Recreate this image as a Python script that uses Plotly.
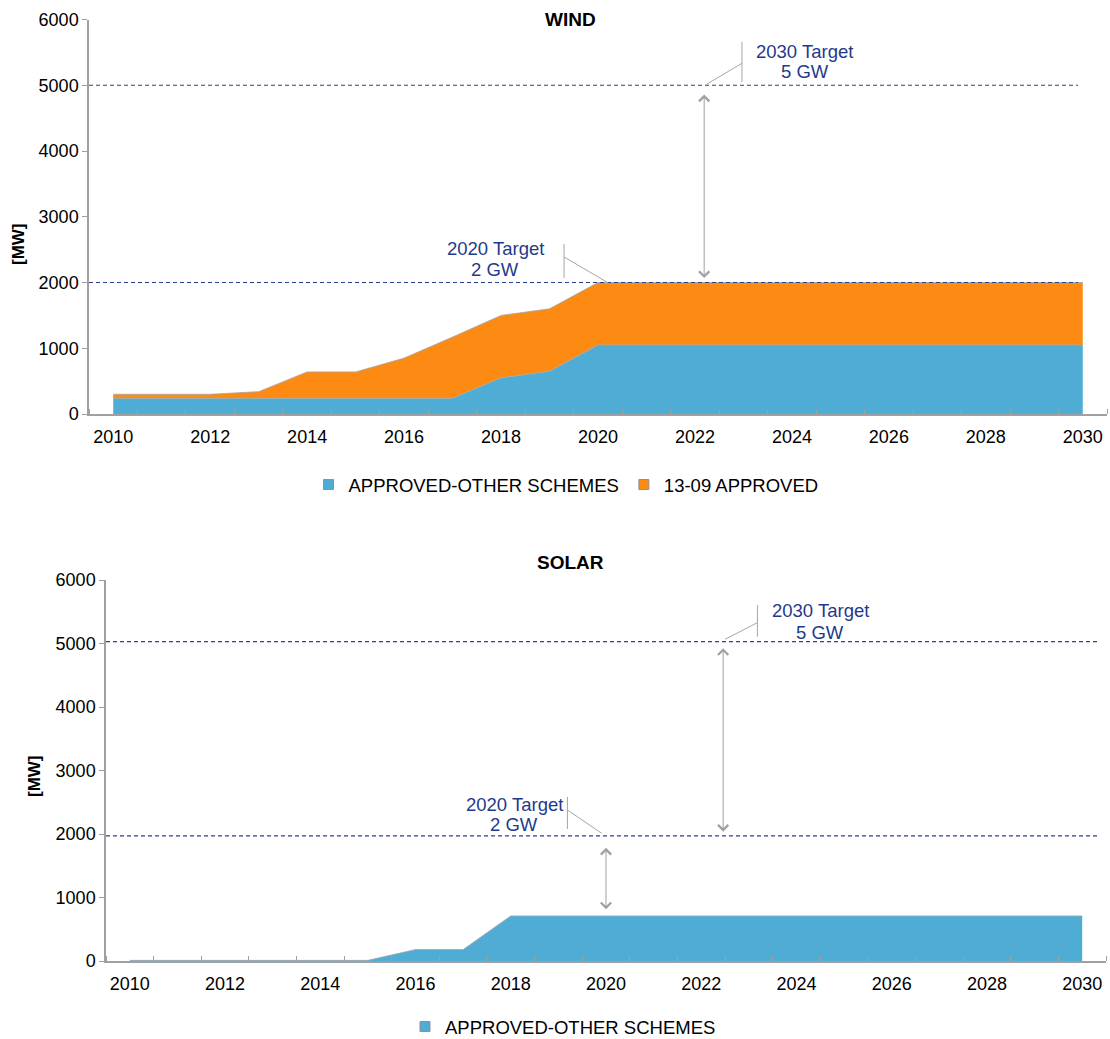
import plotly.graph_objects as go

# ---------------- data ----------------
years = list(range(2010, 2031))
tick_years = list(range(2010, 2031, 2))

wind_other = [240, 240, 240, 240, 240, 240, 240, 240, 550, 650, 1050,
              1050, 1050, 1050, 1050, 1050, 1050, 1050, 1050, 1050, 1050]
wind_1309 = [60, 60, 60, 100, 400, 400, 610, 930, 950, 950, 950,
             950, 950, 950, 950, 950, 950, 950, 950, 950, 950]
solar_other = [10, 10, 10, 10, 10, 10, 180, 180, 710, 710, 710,
               710, 710, 710, 710, 710, 710, 710, 710, 710, 710]

wind_targets = [2000, 5000]
solar_targets = [1970, 5030]

series_names = ["APPROVED-OTHER SCHEMES", "13-09 APPROVED"]
titles = ["WIND", "SOLAR"]
target_2020 = ["2020 Target", "2 GW"]
target_2030 = ["2030 Target", "5 GW"]

# ---------------- styles ----------------
BLUE = "#4FACD5"
ORANGE = "#FD8A13"
NAVY = "#1F3A8C"
DASH = "#27408F"
GRAY = "#A6A6A6"
AXIS = "#A0A0A0"
FONT = "Liberation Sans, Arial, sans-serif"
TXT = 18.5
W, H = 1110, 1039

fig = go.Figure()

# wind stacked areas
fig.add_trace(go.Scatter(x=years, y=wind_other, stackgroup="wind", mode="lines",
                         line=dict(color=GRAY, width=0.8), fillcolor=BLUE,
                         showlegend=False, hoverinfo="skip", xaxis="x", yaxis="y"))
fig.add_trace(go.Scatter(x=years, y=wind_1309, stackgroup="wind", mode="lines",
                         line=dict(color=GRAY, width=0.8), fillcolor=ORANGE,
                         showlegend=False, hoverinfo="skip", xaxis="x", yaxis="y"))
# solar area
fig.add_trace(go.Scatter(x=years, y=solar_other, stackgroup="solar", mode="lines",
                         line=dict(color=GRAY, width=0.8), fillcolor=BLUE,
                         showlegend=False, hoverinfo="skip", xaxis="x2", yaxis="y2"))

# legend entries
def legend_entry(name, color, legend, xa, ya):
    fig.add_trace(go.Scatter(x=[None], y=[None], mode="markers", name=name,
                             marker=dict(symbol="square", size=10, color=color,
                                         line=dict(color="#909090", width=1)),
                             legend=legend, xaxis=xa, yaxis=ya))

legend_entry(series_names[0], BLUE, "legend", "x", "y")
legend_entry(series_names[1], ORANGE, "legend", "x", "y")
legend_entry(series_names[0], BLUE, "legend2", "x2", "y2")

def px_x(px):
    return px / W

def px_y(py):
    return 1 - py / H

common_x = dict(range=[2009.5, 2030.5], tickmode="array", tickvals=tick_years,
                ticks="", showline=True, linecolor=AXIS, linewidth=1.5,
                showgrid=False, zeroline=False, ticklabelstandoff=6,
                tickfont=dict(family=FONT, size=18, color="#000"),
                minor=dict(ticks="inside", tickmode="array",
                           tickvals=[y - 0.5 for y in years] + [2030.5],
                           ticklen=5, tickcolor=AXIS, tickwidth=1, showgrid=False))
common_y = dict(range=[0, 6000], dtick=1000, ticks="outside", ticklen=5,
                tickcolor=AXIS, showline=True, linecolor=AXIS, linewidth=1.5,
                showgrid=False, zeroline=False,
                tickfont=dict(family=FONT, size=18, color="#000"))

fig.update_layout(
    width=W, height=H, autosize=False,
    margin=dict(l=0, r=0, t=0, b=0, autoexpand=False),
    paper_bgcolor="white", plot_bgcolor="white",
    font=dict(family=FONT, size=TXT, color="#000"),
    xaxis=dict(domain=[px_x(89), px_x(1107)], anchor="y", **common_x),
    yaxis=dict(domain=[px_y(414), px_y(19.5)], anchor="x", **common_y),
    xaxis2=dict(domain=[px_x(106), px_x(1106)], anchor="y2", **common_x),
    yaxis2=dict(domain=[px_y(961), px_y(580)], anchor="x2", **common_y),
    legend=dict(orientation="h", x=px_x(566), xanchor="center",
                y=px_y(485), yanchor="middle", font=dict(family=FONT, size=TXT),
                traceorder="normal", itemwidth=30, bgcolor="rgba(0,0,0,0)"),
    legend2=dict(orientation="h", x=px_x(563), xanchor="center",
                 y=px_y(1027), yanchor="middle", font=dict(family=FONT, size=TXT),
                 traceorder="normal", itemwidth=30, bgcolor="rgba(0,0,0,0)"),
    showlegend=True,
)

shapes = []
annotations = []

# dashed target lines
for t in wind_targets:
    shapes.append(dict(type="line", xref="x", yref="y", x0=2009.5, x1=2029.9, y0=t, y1=t,
                       line=dict(color=DASH, width=1.2, dash="4px,3px")))
for t in solar_targets:
    shapes.append(dict(type="line", xref="x2", yref="y2", x0=2009.5, x1=2030.33, y0=t, y1=t,
                       line=dict(color=DASH, width=1.2, dash="4px,3px")))

def leader(xr, yr, vx, vy0, vy1, dx0, dy0, dx1, dy1):
    shapes.append(dict(type="line", xref=xr, yref=yr, x0=vx, x1=vx, y0=vy0, y1=vy1,
                       line=dict(color=GRAY, width=1)))
    shapes.append(dict(type="line", xref=xr, yref=yr, x0=dx0, x1=dx1, y0=dy0, y1=dy1,
                       line=dict(color=GRAY, width=1)))

def label(xr, yr, x, ys, lines):
    for y, text in zip(ys, lines):
        annotations.append(dict(xref=xr, yref=yr, x=x, y=y, text=text, showarrow=False,
                                font=dict(family=FONT, size=TXT, color=NAVY),
                                align="center", xanchor="center", yanchor="middle"))

def double_arrow(xr, yr, x, y_tip, length_px):
    annotations.append(dict(xref=xr, yref=yr, x=x, y=y_tip, ax=0, ay=-length_px,
                            axref="pixel", ayref="pixel", text="", showarrow=True,
                            arrowhead=4, arrowside="end+start", arrowsize=2.0,
                            arrowwidth=1, arrowcolor=AXIS, standoff=0, startstandoff=0))

# wind annotations
label("x", "y", 2017.88, [2510, 2205], target_2020)
leader("x", "y", 2019.30, 2585, 2068, 2019.30, 2388, 2020.21, 1995)
label("x", "y", 2024.27, [5506, 5202], target_2030)
leader("x", "y", 2022.97, 5662, 5049, 2022.97, 5334, 2022.24, 5014)
double_arrow("x", "y", 2022.19, 2068, 185)

# solar annotations
label("x2", "y2", 2018.07, [2472, 2142], target_2020)
leader("x2", "y2", 2019.19, 2583, 2079, 2019.19, 2378, 2019.91, 2011)
label("x2", "y2", 2024.50, [5512, 5181], target_2030)
leader("x2", "y2", 2023.18, 5606, 5107, 2023.18, 5328, 2022.50, 5066)
double_arrow("x2", "y2", 2022.46, 2036, 185)
double_arrow("x2", "y2", 2020.0, 814, 63)

# titles
for title, py in zip(titles, [19, 562]):
    annotations.append(dict(xref="paper", yref="paper", x=px_x(570), y=px_y(py),
                            xanchor="center", yanchor="middle",
                            text="<b>%s</b>" % title, showarrow=False,
                            font=dict(family=FONT, size=19, color="#000")))
# axis titles
for px, py in [(18, 244), (34, 776)]:
    annotations.append(dict(xref="paper", yref="paper", x=px_x(px), y=px_y(py),
                            xanchor="center", yanchor="middle",
                            text="<b>[MW]</b>", textangle=-90, showarrow=False,
                            font=dict(family=FONT, size=17, color="#000")))

fig.update_layout(shapes=shapes, annotations=annotations)

fig.write_html("out.html")
